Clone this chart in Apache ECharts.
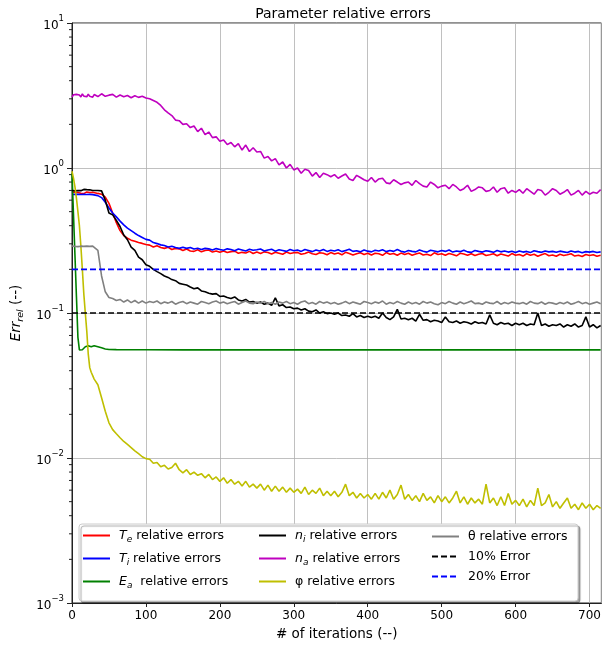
<!DOCTYPE html>
<html><head><meta charset="utf-8">
<script src="https://cdn.jsdelivr.net/npm/echarts/dist/echarts.min.js"></script>
<style>html,body{margin:0;padding:0;background:#fff}#c{width:604px;height:646px}</style>
</head><body><div id="c"></div>
<script>
// iteration numbers shared by the noisy series
const iters = [0,2,4,6,8,10,12,14,16,18,
  20,22,24,26,28,30,35,40,45,50,
  55,60,65,70,75,80,85,90,95,100,
  105,110,115,120,125,130,135,140,145,150,
  155,160,165,170,175,180,185,190,195,200,
  205,210,215,220,225,230,235,240,245,250,
  255,260,265,270,275,280,285,290,295,300,
  305,310,315,320,325,330,335,340,345,350,
  355,360,365,370,375,380,385,390,395,400,
  405,410,415,420,425,430,435,440,445,450,
  455,460,465,470,475,480,485,490,495,500,
  505,510,515,520,525,530,535,540,545,550,
  555,560,565,570,575,580,585,590,595,600,
  605,610,615,620,625,630,635,640,645,650,
  655,660,665,670,675,680,685,690,695,700,
  705,710,715];

const Te = [0.68,0.672,0.684,0.668,0.678,0.684,0.67,0.68,0.666,0.677,
  0.684,0.67,0.678,0.666,0.68,0.672,0.668,0.66,0.63,0.57,
  0.49,0.42,0.37,0.342,0.328,0.318,0.312,0.306,0.302,0.297,
  0.294,0.285,0.291,0.283,0.279,0.284,0.274,0.279,0.277,0.27,
  0.276,0.268,0.266,0.273,0.264,0.27,0.272,0.263,0.268,0.262,
  0.268,0.261,0.265,0.267,0.258,0.262,0.259,0.266,0.257,0.263,
  0.257,0.264,0.261,0.255,0.262,0.258,0.254,0.263,0.257,0.26,
  0.262,0.254,0.257,0.263,0.256,0.253,0.26,0.258,0.252,0.261,
  0.255,0.259,0.252,0.262,0.257,0.251,0.256,0.26,0.253,0.258,
  0.251,0.258,0.256,0.25,0.261,0.254,0.257,0.25,0.259,0.253,
  0.258,0.25,0.255,0.259,0.251,0.254,0.249,0.26,0.253,0.256,
  0.25,0.257,0.253,0.248,0.258,0.255,0.25,0.256,0.249,0.254,
  0.257,0.249,0.252,0.256,0.248,0.255,0.251,0.247,0.257,0.25,
  0.253,0.247,0.256,0.25,0.254,0.246,0.252,0.257,0.248,0.251,
  0.246,0.254,0.249,0.252,0.256,0.247,0.25,0.245,0.253,0.249,
  0.252,0.246,0.25];

const Ti = [0.655,0.646,0.66,0.648,0.658,0.645,0.656,0.644,0.659,0.648,
  0.657,0.645,0.658,0.646,0.655,0.647,0.645,0.625,0.58,0.53,
  0.49,0.46,0.43,0.405,0.385,0.37,0.355,0.342,0.332,0.322,
  0.318,0.306,0.301,0.295,0.292,0.285,0.289,0.283,0.279,0.284,
  0.279,0.283,0.276,0.28,0.274,0.279,0.277,0.272,0.278,0.274,
  0.271,0.277,0.274,0.269,0.276,0.272,0.268,0.275,0.271,0.273,
  0.276,0.268,0.272,0.275,0.267,0.273,0.27,0.266,0.274,0.269,
  0.272,0.266,0.274,0.27,0.265,0.272,0.268,0.274,0.266,0.271,
  0.268,0.273,0.265,0.27,0.275,0.266,0.269,0.264,0.272,0.267,
  0.264,0.271,0.268,0.273,0.265,0.27,0.266,0.274,0.267,0.263,
  0.27,0.266,0.264,0.272,0.267,0.263,0.271,0.268,0.264,0.27,
  0.266,0.272,0.263,0.268,0.265,0.271,0.264,0.262,0.27,0.266,
  0.263,0.269,0.266,0.262,0.27,0.264,0.268,0.263,0.267,0.261,
  0.268,0.263,0.266,0.261,0.269,0.265,0.262,0.268,0.264,0.266,
  0.262,0.267,0.264,0.261,0.268,0.263,0.266,0.26,0.265,0.263,
  0.266,0.261,0.264];

const ni = [0.70,0.708,0.696,0.712,0.7,0.71,0.698,0.707,0.712,0.7,
  0.709,0.698,0.707,0.712,0.7,0.708,0.7,0.695,0.60,0.49,
  0.475,0.435,0.395,0.345,0.32,0.285,0.27,0.243,0.233,0.215,
  0.21,0.2,0.193,0.187,0.18,0.176,0.17,0.167,0.16,0.158,
  0.156,0.151,0.147,0.149,0.142,0.14,0.137,0.135,0.136,0.13,
  0.131,0.128,0.126,0.129,0.123,0.121,0.124,0.119,0.12,0.117,
  0.119,0.115,0.117,0.113,0.127,0.112,0.114,0.109,0.11,0.107,
  0.108,0.105,0.107,0.103,0.102,0.105,0.1,0.102,0.099,0.1,
  0.098,0.1,0.096,0.097,0.095,0.099,0.094,0.096,0.093,0.095,
  0.093,0.095,0.092,0.1,0.093,0.09,0.094,0.106,0.091,0.092,
  0.09,0.092,0.088,0.098,0.089,0.09,0.087,0.089,0.088,0.086,
  0.094,0.087,0.086,0.088,0.085,0.087,0.086,0.084,0.087,0.085,
  0.086,0.084,0.097,0.085,0.083,0.086,0.084,0.085,0.082,0.085,
  0.083,0.085,0.082,0.084,0.083,0.1,0.082,0.084,0.081,0.083,
  0.082,0.084,0.08,0.083,0.081,0.084,0.08,0.082,0.094,0.08,
  0.083,0.079,0.082];

const na = [3.08,3.2,3.1,3.22,3.12,3.19,3.09,3.24,3.13,3.2,
  3.1,3.23,3.12,3.18,3.08,3.21,3.11,3.25,3.12,3.18,
  3.22,3.08,3.19,3.1,3.16,3.05,3.15,3.07,3.12,3.04,
  3.0,2.92,2.84,2.7,2.52,2.4,2.3,2.14,2.12,2.0,
  2.02,1.9,1.95,1.78,1.88,1.7,1.77,1.62,1.64,1.53,
  1.56,1.45,1.5,1.4,1.47,1.33,1.44,1.3,1.38,1.29,
  1.3,1.17,1.2,1.12,1.16,1.05,1.1,1.0,1.06,0.97,
  1.0,0.92,0.98,0.96,0.88,0.93,0.86,0.92,0.9,0.87,
  0.9,0.85,0.88,0.91,0.84,0.82,0.89,0.86,0.83,0.81,
  0.86,0.8,0.84,0.85,0.79,0.78,0.83,0.8,0.77,0.79,
  0.8,0.76,0.82,0.78,0.75,0.74,0.8,0.77,0.73,0.75,
  0.76,0.72,0.77,0.74,0.7,0.72,0.76,0.69,0.71,0.74,
  0.73,0.69,0.7,0.74,0.68,0.72,0.73,0.67,0.7,0.68,
  0.71,0.67,0.72,0.69,0.66,0.71,0.7,0.65,0.68,0.72,
  0.7,0.66,0.68,0.71,0.65,0.67,0.7,0.65,0.69,0.66,
  0.68,0.67,0.71];

const phi = [0.95,0.85,0.74,0.62,0.5,0.4,0.29,0.2,0.135,0.1,
  0.075,0.052,0.042,0.039,0.037,0.035,0.032,0.026,0.021,0.0175,
  0.0157,0.0147,0.0138,0.013,0.0124,0.0118,0.0112,0.0107,0.0102,0.0099,
  0.0098,0.0092,0.0093,0.0087,0.0089,0.0084,0.0086,0.0092,0.0083,0.0079,
  0.0083,0.0077,0.008,0.0076,0.0078,0.0073,0.0077,0.0071,0.0074,0.0069,
  0.0073,0.0067,0.0071,0.0066,0.0069,0.0064,0.0069,0.0063,0.0066,0.0062,
  0.0066,0.006,0.0065,0.0059,0.0064,0.0059,0.0063,0.0058,0.0062,0.0058,
  0.0061,0.0057,0.0063,0.0056,0.006,0.0057,0.0062,0.0055,0.0059,0.0055,
  0.0059,0.0054,0.0058,0.0066,0.0055,0.0058,0.0053,0.0057,0.0053,0.0056,
  0.0052,0.0057,0.0052,0.0058,0.0053,0.006,0.0052,0.0056,0.0065,0.0052,
  0.0056,0.0051,0.0055,0.005,0.0057,0.0051,0.0054,0.0049,0.0055,0.005,
  0.0054,0.0049,0.0053,0.0059,0.0049,0.0054,0.0048,0.0053,0.0049,0.0052,
  0.0048,0.0066,0.0049,0.0053,0.0047,0.0054,0.0047,0.0057,0.0048,0.0051,
  0.0047,0.0052,0.0046,0.0051,0.0047,0.0062,0.0047,0.0049,0.0056,0.0046,
  0.005,0.0045,0.0049,0.0053,0.0045,0.0048,0.0044,0.0049,0.0045,0.0048,
  0.0044,0.0047,0.0045];

const theta = [0.29,0.294,0.288,0.293,0.287,0.294,0.289,0.292,0.288,0.293,
  0.289,0.294,0.288,0.292,0.289,0.29,0.27,0.18,0.14,0.128,
  0.126,0.122,0.124,0.119,0.123,0.118,0.122,0.117,0.121,0.117,
  0.12,0.118,0.121,0.116,0.119,0.117,0.12,0.115,0.118,0.12,
  0.116,0.119,0.117,0.115,0.12,0.118,0.116,0.119,0.121,0.117,
  0.119,0.116,0.118,0.12,0.115,0.118,0.121,0.117,0.116,0.119,
  0.117,0.12,0.116,0.118,0.115,0.119,0.117,0.12,0.116,0.118,
  0.115,0.119,0.121,0.116,0.118,0.115,0.12,0.117,0.119,0.116,
  0.118,0.115,0.117,0.12,0.116,0.119,0.117,0.115,0.12,0.118,
  0.116,0.119,0.117,0.121,0.115,0.118,0.116,0.12,0.117,0.115,
  0.119,0.116,0.118,0.115,0.12,0.117,0.119,0.116,0.114,0.118,
  0.116,0.12,0.117,0.115,0.119,0.116,0.118,0.121,0.116,0.117,
  0.115,0.119,0.117,0.116,0.12,0.115,0.118,0.116,0.119,0.117,
  0.116,0.118,0.115,0.12,0.117,0.116,0.119,0.115,0.118,0.117,
  0.115,0.118,0.116,0.119,0.115,0.117,0.12,0.116,0.118,0.115,
  0.117,0.119,0.116];

// E_a is a near-flat line, sampled on its own iterations
const itersEa = [0,2,4,6,8,10,12,14,16,18,20,22,24,26,28,30,35,40,45,50,60,80,100,150,200,300,400,500,600,715];
const Ea = [0.92,0.48,0.25,0.13,0.068,0.0556,0.0555,0.0558,0.057,0.0585,0.059,0.0594,0.0588,0.0585,0.0592,0.0595,0.0585,0.0575,0.0565,0.056,0.0559,0.0558,0.0558,0.0557,0.0557,0.0557,0.0557,0.0557,0.0557,0.0557];

// reference error levels
const refIters = [0, 716];
const err10 = [0.1, 0.1];
const err20 = [0.2, 0.2];

const yMinorTicks = [0.002,0.003,0.004,0.005,0.006,0.007,0.008,0.009,
  0.02,0.03,0.04,0.05,0.06,0.07,0.08,0.09,
  0.2,0.3,0.4,0.5,0.6,0.7,0.8,0.9,
  2,3,4,5,6,7,8,9];

const FONT = 'DejaVu Sans';
const pairs = (xs, ys) => xs.map((x, i) => [x, ys[i]]);

const legendText = {
  'Te': '{i|T}{s|e}{n| relative errors}',
  'Ti': '{i|T}{s|i}{n| relative errors}',
  'Ea': '{i|E}{s|a}{n|  relative errors}',
  'ni': '{i|n}{s|i}{n| relative errors}',
  'na': '{i|n}{s|a}{n| relative errors}',
  'phi': '{n|\u03c6 relative errors}',
  'theta': '{n|\u03b8 relative errors}',
  '10% Error': '{n|10% Error}',
  '20% Error': '{n|20% Error}'
};
const legendRich = {
  i: {fontFamily: FONT, fontSize: 12.5, fontStyle: 'italic', color: '#000', lineHeight: 18, verticalAlign: 'middle'},
  s: {fontFamily: FONT, fontSize: 9, fontStyle: 'italic', color: '#000', lineHeight: 12, verticalAlign: 'bottom'},
  n: {fontFamily: FONT, fontSize: 12.5, color: '#000', lineHeight: 18, verticalAlign: 'middle'}
};
function mkLegend(left, top, gap, data) {
  return {
    orient: 'vertical', left: left, top: top, padding: 0, z: 5,
    itemWidth: 27, itemHeight: 12, itemGap: gap,
    itemStyle: {opacity: 0},
    data: data, formatter: n => legendText[n],
    textStyle: {fontFamily: FONT, fontSize: 12.5, color: '#000', padding: [0, 0, 0, 4], rich: legendRich},
    selectedMode: false
  };
}
function lineSeries(name, data, color, dash) {
  return {
    type: 'line', name: name, data: data, symbol: 'none', showSymbol: false,
    z: 2, clip: true, animation: false,
    lineStyle: {color: color, width: 1.6, type: dash || 'solid'},
    itemStyle: {color: color}
  };
}

const chart = echarts.init(document.getElementById('c'), null, {renderer: 'canvas'});
chart.setOption({
  animation: false,
  backgroundColor: '#fff',
  title: {
    text: 'Parameter relative errors', left: 338, top: 2, textAlign: 'center',
    textStyle: {fontFamily: FONT, fontSize: 14, fontWeight: 'normal', color: '#000'}
  },
  grid: {left: 72, top: 23, right: -2, bottom: 42, show: true, borderColor: '#222', borderWidth: 1, backgroundColor: 'transparent'},
  xAxis: {
    type: 'value', min: 0, max: 716, interval: 100,
    name: '# of iterations (--)', nameLocation: 'middle', nameGap: 24,
    nameTextStyle: {fontFamily: FONT, fontSize: 13.5, color: '#000'},
    axisLine: {lineStyle: {color: '#222', width: 1}},
    axisTick: {length: 4, lineStyle: {color: '#222'}},
    axisLabel: {margin: 7, fontFamily: FONT, fontSize: 12, color: '#000', showMaxLabel: false,
      formatter: v => (v % 100 === 0 ? String(v) : '')},
    splitLine: {show: true, lineStyle: {color: '#b0b0b0', width: 0.8}}
  },
  yAxis: {
    type: 'log', logBase: 10, min: 0.001, max: 10,
    name: '{i|Err}{s|rel}{n| (--)}', nameLocation: 'middle', nameGap: 42,
    nameTextStyle: {fontFamily: FONT, fontSize: 13.5, color: '#000', rich: {
      i: {fontFamily: FONT, fontSize: 13.5, fontStyle: 'italic', color: '#000', lineHeight: 18, verticalAlign: 'middle'},
      s: {fontFamily: FONT, fontSize: 9.5, fontStyle: 'italic', color: '#000', lineHeight: 12, verticalAlign: 'bottom'},
      n: {fontFamily: FONT, fontSize: 13.5, color: '#000', lineHeight: 18, verticalAlign: 'middle'}
    }},
    axisLine: {show: true, lineStyle: {color: '#222', width: 1}},
    axisTick: {show: true, length: 5, lineStyle: {color: '#222'}},
    axisLabel: {margin: 8, fontFamily: FONT, fontSize: 12, color: '#000',
      formatter: v => {
        const e = Math.round(Math.log10(v));
        return '{b|10}{p|' + (e < 0 ? '\u2212' + (-e) : e) + '}';
      },
      rich: {
        b: {fontFamily: FONT, fontSize: 12, color: '#000', lineHeight: 18, verticalAlign: 'bottom'},
        p: {fontFamily: FONT, fontSize: 8.5, color: '#000', lineHeight: 10, verticalAlign: 'top'}
      }
    },
    splitLine: {show: true, lineStyle: {color: '#b0b0b0', width: 0.8}}
  },
  legend: [
    mkLegend(82, 529, 7.5, ['Te', 'Ti', 'Ea']),
    mkLegend(258, 529, 7.5, ['ni', 'na', 'phi']),
    mkLegend(431, 530, 7, ['theta', '10% Error', '20% Error'])
  ],
  graphic: {elements: [{
    type: 'rect', z: 3, silent: true,
    shape: {x: 79, y: 524, width: 499, height: 77, r: 3},
    style: {fill: '#ffffff', stroke: '#cccccc', lineWidth: 1,
      shadowColor: 'rgba(0,0,0,0.35)', shadowOffsetX: 2, shadowOffsetY: 2, shadowBlur: 1}
  }]},
  series: [
    lineSeries('Te', pairs(iters, Te), '#ff0000'),
    lineSeries('Ti', pairs(iters, Ti), '#0000ff'),
    lineSeries('Ea', pairs(itersEa, Ea), '#008000'),
    lineSeries('ni', pairs(iters, ni), '#000000'),
    lineSeries('na', pairs(iters, na), '#bf00bf'),
    lineSeries('phi', pairs(iters, phi), '#bfbf00'),
    lineSeries('theta', pairs(iters, theta), '#808080'),
    lineSeries('10% Error', pairs(refIters, err10), '#000000', [6, 3]),
    lineSeries('20% Error', pairs(refIters, err20), '#0000ff', [6, 3]),
    {
      type: 'custom', name: 'minor', silent: true, animation: false,
      data: yMinorTicks.map(v => [0, v]),
      renderItem: (params, api) => {
        const p = api.coord([0, api.value(1)]);
        return {type: 'line', shape: {x1: p[0] - 3, y1: p[1], x2: p[0], y2: p[1]},
          style: {stroke: '#222', lineWidth: 1}};
      }
    }
  ]
});
</script></body></html>
